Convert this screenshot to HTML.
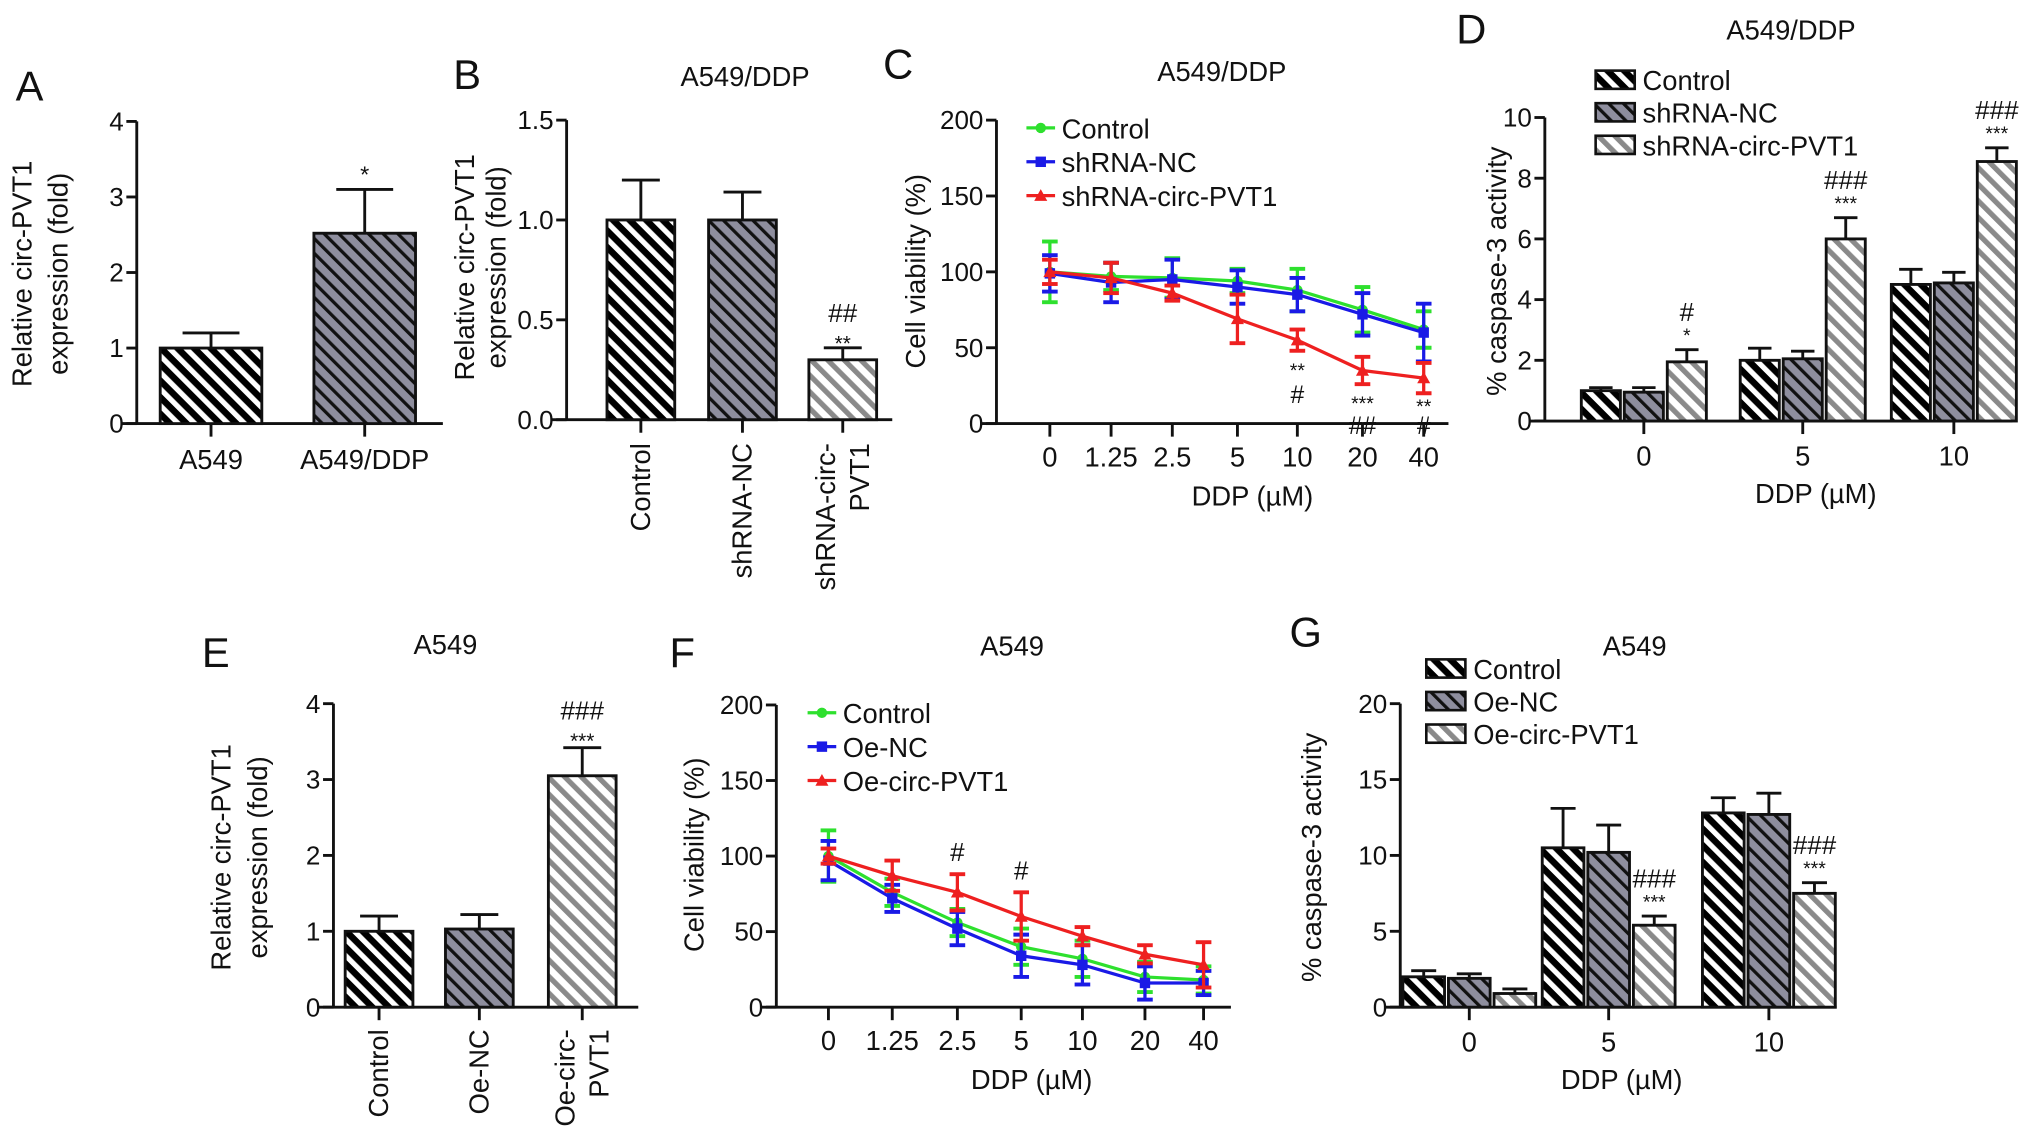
<!DOCTYPE html>
<html><head><meta charset="utf-8"><style>
html,body{margin:0;padding:0;background:#fff;}
svg{display:block;font-family:"Liberation Sans",Arial,sans-serif;}
</style></head><body>
<svg id="fig" width="2032" height="1139" viewBox="0 0 1560 874" xmlns="http://www.w3.org/2000/svg">
<defs>
<pattern id="p0" patternUnits="userSpaceOnUse" width="9" height="9" patternTransform="rotate(-45)"><rect width="9" height="9" fill="#000"/><rect width="4" height="9" fill="#fff"/></pattern>
<pattern id="p1" patternUnits="userSpaceOnUse" width="8" height="8" patternTransform="rotate(-45)"><rect width="8" height="8" fill="#8e8e9e"/><rect width="2.5" height="8" fill="#111"/></pattern>
<pattern id="p2" patternUnits="userSpaceOnUse" width="9" height="9" patternTransform="rotate(-45)"><rect width="9" height="9" fill="#fff"/><rect width="4" height="9" fill="#8a8a8a"/></pattern>
</defs>
</svg>
<script>
// Panel A
const aCats=["A549","A549/DDP"];
const aVals=[1.0,2.52];
const aErr=[1.2,3.1];
const aTicks=[0,1,2,3,4];
// Panel B
const bCats=[["Control"],["shRNA-NC"],["shRNA-circ-","PVT1"]];
const bVals=[1.0,1.0,0.3];
const bErr=[1.2,1.14,0.36];
const bTicks=["0.0","0.5","1.0","1.5"];
// Panel C
const cDoses=["0","1.25","2.5","5","10","20","40"];
const cCtrl=[100,97,96,94,88,75,62];
const cCtrlE=[20,9,13,8,14,15,12];
const cNC=[99,93,95,90,85,72,60];
const cNCE=[12,13,13,11,11,14,19];
const cSh=[100,96,86,69,55,35,30];
const cShE=[8,10,5,16,7,9,10];
const vTicks=[0,50,100,150,200];
// Panel D
const dGroups=["0","5","10"];
const dCtrl=[1.0,2.0,4.5];
const dCtrlE=[1.1,2.4,5.0];
const dNC=[0.95,2.05,4.55];
const dNCE=[1.1,2.3,4.9];
const dSh=[1.95,6.0,8.55];
const dShE=[2.35,6.7,9.0];
const dTicks=[0,2,4,6,8,10];
// Panel E
const eCats=[["Control"],["Oe-NC"],["Oe-circ-","PVT1"]];
const eVals=[1.0,1.03,3.05];
const eErr=[1.2,1.22,3.42];
const eTicks=[0,1,2,3,4];
// Panel F
const fCtrl=[100,76,56,40,32,20,18];
const fCtrlE=[17,9,9,12,12,10,9];
const fNC=[97,72,52,34,28,16,16];
const fNCE=[13,9,11,14,13,11,8];
const fOe=[100,87,76,60,47,35,28];
const fOeE=[5,10,12,16,6,6,15];
// Panel G
const gCtrl=[2.0,10.5,12.8];
const gCtrlE=[2.4,13.1,13.8];
const gNC=[1.9,10.2,12.7];
const gNCE=[2.2,12.0,14.1];
const gOe=[0.9,5.4,7.5];
const gOeE=[1.2,6.0,8.2];
const gTicks=[0,5,10,15,20];

const svg=document.getElementById('fig');
const NS="http://www.w3.org/2000/svg";
function el(tag,attrs,parent,txt){const e=document.createElementNS(NS,tag);for(const k in attrs)e.setAttribute(k,attrs[k]);if(txt!==undefined)e.textContent=txt;(parent||svg).appendChild(e);return e;}
function group(name){const g=el('g',{});


return g;}
function txt(g,x,y,s,size,anchor,name,extra){const t=el('text',Object.assign({x:x,y:y,'font-size':size,'text-anchor':anchor||'middle',fill:'#111'},extra||{}),g,s);


return t;}
function line(g,x1,y1,x2,y2,w,c){return el('line',{x1:x1,y1:y1,x2:x2,y2:y2,stroke:c||'#111','stroke-width':w||2.2},g);}
function yAxis(g,ax,y0,ytop,x1,ticks,max,labels){
  const ys=v=>y0-(v/max)*(y0-ytop);
  const a=line(g,ax,ytop,ax,y0);
  
  
  const b=line(g,ax-12,y0,x1,y0);
  
  
  ticks.forEach((t,i)=>{line(g,ax-8,ys(t),ax,ys(t));txt(g,ax-10,ys(t)+7,labels?labels[i]:String(t),20,'end','y-tick-label');});
  return ys;}
function ylabel(g,x,cy,lines,sp){sp=sp||28;lines.forEach((s,i)=>{const t=txt(g,x+i*sp,cy,s,21,'middle','y-axis-title',{transform:`rotate(-90 ${x+i*sp} ${cy})`});});}
function err(g,x,yv,ye,hw,c,w){line(g,x,yv,x,ye,w||2.2,c);line(g,x-hw,ye,x+hw,ye,w||2.2,c);}

function barPanel(o){
  const g=group(o.name);
  const ys=yAxis(g,o.ax,o.y0,o.ytop,o.x1,o.ticks,o.max,o.tlabels);
  o.vals.forEach((v,i)=>{
    const cx=o.cx[i];
    err(g,cx,ys(v),ys(o.err[i]),o.w*0.28);
    const r=el('rect',{x:cx-o.w/2,y:ys(v),width:o.w,height:o.y0-ys(v),fill:`url(#p${i})`,stroke:'#111','stroke-width':2.2},g);
    
    
    line(g,cx,o.y0,cx,o.y0+10);
  });
  return {g,ys};
}

// Panel A
(function(){
  const cx=[162,280];
  const p=barPanel({name:'panel-a',ax:105,y0:325,ytop:93,x1:340,ticks:aTicks,max:4,vals:aVals,err:aErr,cx:cx,w:78});
  aCats.forEach((c,i)=>txt(p.g,cx[i],360,c,21,'middle','x-tick-label'));
  txt(p.g,cx[1],140,'*',18,'middle','significance-mark');
  ylabel(p.g,24,210,['Relative circ-PVT1','expression (fold)']);
  txt(p.g,12,77,'A',32,'start','panel-letter');
})();
// Panel B
(function(){
  const cx=[492,570,647];
  const p=barPanel({name:'panel-b',ax:435,y0:322,ytop:92,x1:685,ticks:[0,0.5,1,1.5],tlabels:bTicks,max:1.5,vals:bVals,err:bErr,cx:cx,w:52});
  bCats.forEach((c,i)=>c.forEach((s,j)=>{const x=cx[i]+7-(c.length-1)*13+j*26;txt(p.g,x,340,s,21,'end','x-tick-label',{transform:`rotate(-90 ${x} 340)`});}));
  txt(p.g,cx[2],247,'##',20,'middle','significance-mark');
  txt(p.g,cx[2],269,'**',16,'middle','significance-mark');
  ylabel(p.g,364,205,['Relative circ-PVT1','expression (fold)'],24);
  txt(p.g,572,66,'A549/DDP',21,'middle','panel-title');
  txt(p.g,348,68,'B',32,'start','panel-letter');
})();

function linePanel(o){
  const g=group(o.name);
  const ys=yAxis(g,o.ax,o.y0,o.ytop,o.x1,vTicks,200);
  o.xs.forEach((x,i)=>{line(g,x,o.y0,x,o.y0+10);txt(g,x,o.y0+33,cDoses[i],21,'middle','x-tick-label');});
  o.series.forEach((s,si)=>{
    const sg=el('g',{},g);
    
    
    s.v.forEach((v,i)=>{err(sg,o.xs[i],ys(v+s.e[i]),ys(v-s.e[i]),0,s.c,2.5);line(sg,o.xs[i]-6,ys(v+s.e[i]),o.xs[i]+6,ys(v+s.e[i]),3,s.c);line(sg,o.xs[i]-6,ys(v-s.e[i]),o.xs[i]+6,ys(v-s.e[i]),3,s.c);});
    el('polyline',{points:s.v.map((v,i)=>o.xs[i]+','+ys(v)).join(' '),fill:'none',stroke:s.c,'stroke-width':2.5},sg);
    s.v.forEach((v,i)=>{
      let m;
      if(si==0)m=el('circle',{cx:o.xs[i],cy:ys(v),r:4,fill:s.c},sg);
      else if(si==1)m=el('rect',{x:o.xs[i]-4,y:ys(v)-4,width:8,height:8,fill:s.c},sg);
      else m=el('polygon',{points:`${o.xs[i]},${ys(v)-5} ${o.xs[i]-5},${ys(v)+4} ${o.xs[i]+5},${ys(v)+4}`,fill:s.c},sg);
      
      
    });
    const ly=o.ly+si*26;
    const lg=el('g',{},g);
    
    
    line(lg,o.lx,ly,o.lx+22,ly,2.5,s.c);
    if(si==0)el('circle',{cx:o.lx+11,cy:ly,r:4,fill:s.c},lg);
    else if(si==1)el('rect',{x:o.lx+7,y:ly-4,width:8,height:8,fill:s.c},lg);
    else el('polygon',{points:`${o.lx+11},${ly-5} ${o.lx+6},${ly+4} ${o.lx+16},${ly+4}`,fill:s.c},lg);
    txt(lg,o.lx+27,ly+8,s.label,21,'start','legend-label');
  });
  txt(g,(o.xs[0]+o.xs[6])/2+12,o.y0+63,'DDP (\u00b5M)',21,'middle','x-axis-title');
  ylabel(g,o.ylx,o.y0-117,['Cell viability (%)']);
  return {g,ys};
}
const GREEN='#2ee02e',BLUE='#1a1ae6',RED='#ee2020';
// Panel C
(function(){
  const xs=[806,853,900,950,996,1046,1093];
  const p=linePanel({name:'panel-c',ax:765,y0:325,ytop:92,x1:1112,xs:xs,lx:788,ly:98,ylx:710,
    series:[{label:'Control',v:cCtrl,e:cCtrlE,c:GREEN},{label:'shRNA-NC',v:cNC,e:cNCE,c:BLUE},{label:'shRNA-circ-PVT1',v:cSh,e:cShE,c:RED}]});
  [[4,'**','#'],[5,'***','##'],[6,'**','#']].forEach(([i,s,h])=>{
    const yb=p.ys(cSh[i]-cShE[i]);
    txt(p.g,xs[i],Math.min(yb+20,p.ys(0)-8),s,15,'middle','significance-mark');
    txt(p.g,xs[i],Math.min(yb+40,p.ys(0)+8),h,19,'middle','significance-mark');
  });
  txt(p.g,938,62,'A549/DDP',21,'middle','panel-title');
  txt(p.g,678,60,'C',32,'start','panel-letter');
})();
// Panel F
(function(){
  const xs=[636,685,735,784,831,879,924];
  const p=linePanel({name:'panel-f',ax:596,y0:773,ytop:541,x1:945,xs:xs,lx:620,ly:547,ylx:540,
    series:[{label:'Control',v:fCtrl,e:fCtrlE,c:GREEN},{label:'Oe-NC',v:fNC,e:fNCE,c:BLUE},{label:'Oe-circ-PVT1',v:fOe,e:fOeE,c:RED}]});
  [2,3].forEach(i=>txt(p.g,xs[i],p.ys(fOe[i]+fOeE[i])-10,'#',20,'middle','significance-mark'));
  txt(p.g,777,503,'A549',21,'middle','panel-title');
  txt(p.g,514,512,'F',32,'start','panel-letter');
})();

function groupPanel(o){
  const g=group(o.name);
  const ys=yAxis(g,o.ax,o.y0,o.ytop,o.x1,o.ticks,o.max);
  const sets=[[o.a,o.ae],[o.b,o.be],[o.c,o.ce]];
  o.gx.forEach((gx,gi)=>{
    sets.forEach((s,si)=>{
      const cx=gx+(si-1)*(o.w+3);
      const v=s[0][gi];
      err(g,cx,ys(v),ys(s[1][gi]),o.w*0.3);
      const r=el('rect',{x:cx-o.w/2,y:ys(v),width:o.w,height:o.y0-ys(v),fill:`url(#p${si})`,stroke:'#111','stroke-width':2.2},g);
      
      
    });
    line(g,gx,o.y0,gx,o.y0+10);
    txt(g,gx,o.y0+34,o.groups[gi],21,'middle','x-tick-label');
  });
  o.legend.forEach((l,i)=>{
    const lg=el('g',{},g);
    
    
    el('rect',{x:o.lx,y:o.ly+i*25-7,width:30,height:14,fill:`url(#p${i})`,stroke:'#111','stroke-width':2},lg);
    txt(lg,o.lx+36,o.ly+i*25+8,l,21,'start','legend-label');
  });
  txt(g,o.gx[1]+10,o.y0+63,'DDP (\u00b5M)',21,'middle','x-axis-title');
  ylabel(g,o.ylx,o.y0-115,['% caspase-3 activity']);
  return {g,ys};
}
// Panel D
(function(){
  const gx=[1262,1384,1500];
  const p=groupPanel({name:'panel-d',ax:1186,y0:323,ytop:90,x1:1545,ticks:dTicks,max:10,gx:gx,groups:dGroups,w:30,
    a:dCtrl,ae:dCtrlE,b:dNC,be:dNCE,c:dSh,ce:dShE,legend:['Control','shRNA-NC','shRNA-circ-PVT1'],lx:1225,ly:61,ylx:1156});
  const s=[['*','#'],['***','###'],['***','###']];
  gx.forEach((x,i)=>{const cx=x+33;const yt=p.ys(dShE[i]);txt(p.g,cx,yt-6,s[i][0],15,'middle','significance-mark');txt(p.g,cx,yt-22,s[i][1],20,'middle','significance-mark');});
  txt(p.g,1375,30,'A549/DDP',21,'middle','panel-title');
  txt(p.g,1118,33,'D',32,'start','panel-letter');
})();
// Panel E
(function(){
  const cx=[291,368,447];
  const p=barPanel({name:'panel-e',ax:256,y0:773,ytop:540,x1:490,ticks:eTicks,max:4,vals:eVals,err:eErr,cx:cx,w:52});
  eCats.forEach((c,i)=>c.forEach((s,j)=>{const x=cx[i]+7-(c.length-1)*13+j*26;txt(p.g,x,790,s,21,'end','x-tick-label',{transform:`rotate(-90 ${x} 790)`});}));
  txt(p.g,cx[2],574,'***',16,'middle','significance-mark');
  txt(p.g,cx[2],552,'###',20,'middle','significance-mark');
  ylabel(p.g,177,658,['Relative circ-PVT1','expression (fold)']);
  txt(p.g,342,502,'A549',21,'middle','panel-title');
  txt(p.g,155,512,'E',32,'start','panel-letter');
})();
// Panel G
(function(){
  const gx=[1128,1235,1358];
  const p=groupPanel({name:'panel-g',ax:1075,y0:773,ytop:540,x1:1410,ticks:gTicks,max:20,gx:gx,groups:dGroups,w:32,
    a:gCtrl,ae:gCtrlE,b:gNC,be:gNCE,c:gOe,ce:gOeE,legend:['Control','Oe-NC','Oe-circ-PVT1'],lx:1095,ly:513,ylx:1014});
  [1,2].forEach(i=>{const cx=gx[i]+35;const yt=p.ys(gOeE[i]);txt(p.g,cx,yt-6,'***',15,'middle','significance-mark');txt(p.g,cx,yt-22,'###',20,'middle','significance-mark');});
  txt(p.g,1255,503,'A549',21,'middle','panel-title');
  txt(p.g,990,496,'G',32,'start','panel-letter');
})();
</script>
</body></html>
